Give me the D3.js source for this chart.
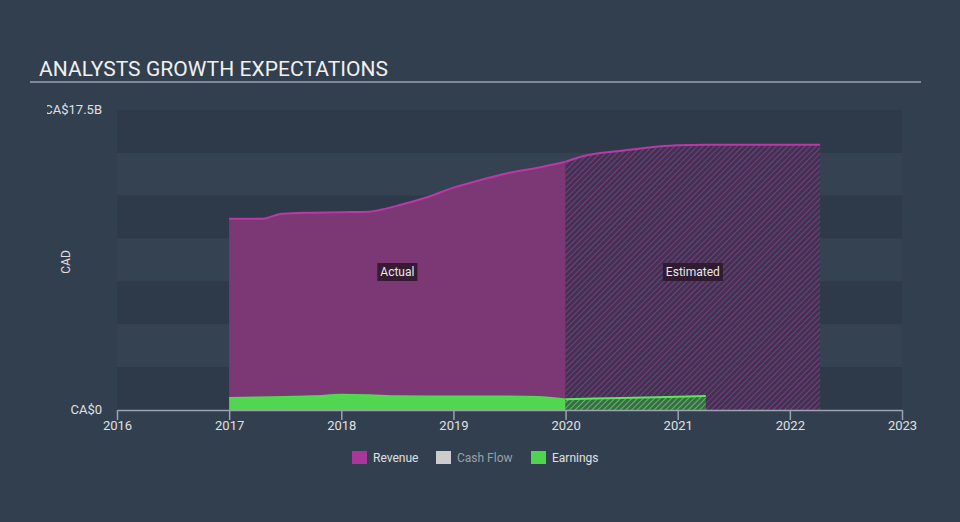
<!DOCTYPE html>
<html>
<head>
<meta charset="utf-8">
<script src="https://cdn.jsdelivr.net/npm/d3@7"></script>
<style>
  body { margin: 0; background: #323f4f; font-family: Roboto, "Open Sans", sans-serif; }
  svg { display: block; }
</style>
</head>
<body>
<div id="chart"></div>
<script>
// Data (CA$ billions)
const revenueActualYears = [2017.0, 2017.3, 2017.47, 2017.75, 2018.0, 2018.25, 2018.36, 2018.5, 2018.75, 2019.0, 2019.25, 2019.5, 2019.75, 2020.0];
const revenueActual = [11.16, 11.16, 11.45, 11.51, 11.54, 11.57, 11.69, 11.92, 12.38, 12.97, 13.43, 13.84, 14.13, 14.48];
const revenueEstYears = [2020.0, 2020.17, 2020.5, 2020.83, 2021.0, 2021.25, 2022.27];
const revenueEst = [14.48, 14.83, 15.12, 15.37, 15.44, 15.47, 15.47];

const earningsActualYears = [2017.0, 2017.5, 2017.75, 2018.0, 2018.25, 2018.5, 2019.0, 2019.5, 2019.75, 2020.0];
const earningsActual = [0.72, 0.78, 0.81, 0.9, 0.87, 0.81, 0.8, 0.8, 0.77, 0.63];
const earningsEstYears = [2020.0, 2020.5, 2021.0, 2021.25];
const earningsEst = [0.63, 0.7, 0.77, 0.81];

const xTicks = [2016, 2017, 2018, 2019, 2020, 2021, 2022, 2023];
const yTickValues = [0, 17.5];
const yTickLabels = ["CA$0", "CA$17.5B"];
const legendItems = ["Revenue", "Cash Flow", "Earnings"];
const legendColors = ["#a9379b", "#cccccc", "#4fd44f"];

const width = 960, height = 522;
const svg = d3.select("#chart").append("svg")
  .attr("width", width).attr("height", height);

const defs = svg.append("defs");
function hatch(id, bg, line) {
  const p = defs.append("pattern")
    .attr("id", id)
    .attr("patternUnits", "userSpaceOnUse")
    .attr("width", 4).attr("height", 4)
    .attr("patternTransform", "rotate(45)");
  p.append("rect").attr("width", 4).attr("height", 4).attr("fill", bg);
  p.append("line").attr("x1", 0).attr("y1", 0).attr("x2", 0).attr("y2", 4)
    .attr("stroke", line).attr("stroke-width", 1.6);
}
hatch("hatchRev", "#3d3550", "#953790");
hatch("hatchEarn", "#3c6a4a", "#5bd65b");

defs.append("clipPath").attr("id", "yclip")
  .append("rect").attr("x", 47).attr("y", 0).attr("width", 100).attr("height", height);

const x = d3.scaleLinear().domain([2016, 2023]).range([117, 902]);
const y = d3.scaleLinear().domain([0, 17.5]).range([410, 110]);

// Title
svg.append("text")
  .attr("x", 39).attr("y", 76)
  .attr("fill", "#f0f0f0")
  .attr("font-size", 21)
  .attr("textLength", 349)
  .text("ANALYSTS GROWTH EXPECTATIONS");
svg.append("line")
  .attr("x1", 30).attr("x2", 921).attr("y1", 82).attr("y2", 82)
  .attr("stroke", "#9aa3ae").attr("stroke-width", 1.5);

// Background bands
const bandStep = 2.5;
const bands = d3.range(0, 7);
svg.append("g").selectAll("rect")
  .data(bands)
  .enter().append("rect")
  .attr("x", x(2016))
  .attr("width", x(2023) - x(2016))
  .attr("y", (d) => y(17.5 - d * bandStep))
  .attr("height", y(0) - y(bandStep))
  .attr("fill", (d) => (d % 2 === 0 ? "#2e3a49" : "#344252"));

const zip = (xs, vs) => xs.map((t, i) => ({ t, v: vs[i] }));
const area = d3.area().x((d) => x(d.t)).y0(y(0)).y1((d) => y(d.v)).curve(d3.curveMonotoneX);
const line = d3.line().x((d) => x(d.t)).y((d) => y(d.v)).curve(d3.curveMonotoneX);

const revA = zip(revenueActualYears, revenueActual);
const revE = zip(revenueEstYears, revenueEst);
const earnA = zip(earningsActualYears, earningsActual);
const earnE = zip(earningsEstYears, earningsEst);

// Revenue
svg.append("path").datum(revA).attr("d", area).attr("fill", "#7b3874");
svg.append("path").datum(revE).attr("d", area).attr("fill", "url(#hatchRev)");
svg.append("path").datum(revA).attr("d", line).attr("fill", "none").attr("stroke", "#b93aa6").attr("stroke-width", 2);
svg.append("path").datum(revE).attr("d", line).attr("fill", "none").attr("stroke", "#b93aa6").attr("stroke-width", 2);

// Earnings
svg.append("path").datum(earnA).attr("d", area).attr("fill", "#52d652");
svg.append("path").datum(earnE).attr("d", area).attr("fill", "url(#hatchEarn)");
svg.append("path").datum(earnA).attr("d", line).attr("fill", "none").attr("stroke", "#4fdc4f").attr("stroke-width", 1.5);
svg.append("path").datum(earnE).attr("d", line).attr("fill", "none").attr("stroke", "#5ae85a").attr("stroke-width", 2);

// Actual / Estimated labels
const tags = [
  { text: "Actual", t: (revenueActualYears[0] + revenueEstYears[0]) / 2 },
  { text: "Estimated", t: (revenueEstYears[0] + revenueEstYears[revenueEstYears.length - 1]) / 2 }
];
tags.forEach((d) => {
  const g = svg.append("g").attr("transform", `translate(${x(d.t)},272)`);
  const txt = g.append("text")
    .attr("text-anchor", "middle").attr("dy", "0.35em")
    .attr("fill", "#e8e8e8").attr("font-size", 12)
    .text(d.text);
  const bb = txt.node().getBBox();
  g.insert("rect", "text")
    .attr("x", bb.x - 3).attr("y", -9)
    .attr("width", bb.width + 6).attr("height", 18)
    .attr("fill", "#2a1628").attr("opacity", 0.85);
});

// X axis
const xAxis = d3.axisBottom(x).tickValues(xTicks).tickFormat(d3.format("d")).tickSize(10).tickSizeOuter(0);
const xg = svg.append("g").attr("transform", `translate(0,${y(0)})`).call(xAxis);
xg.select(".domain").attr("stroke", "#9aa3ae").attr("stroke-width", 1.5);
xg.selectAll(".tick line").attr("stroke", "#9aa3ae").attr("stroke-width", 1.5);
xg.selectAll(".tick text")
  .attr("fill", "#e0e0e0").attr("font-size", 13)
  .attr("font-family", "Roboto, sans-serif").attr("y", 11).attr("dy", "0.71em");

// Y labels
svg.append("g").attr("clip-path", "url(#yclip)")
  .selectAll("text").data(yTickValues).enter().append("text")
  .attr("x", 102).attr("y", (d) => y(d))
  .attr("dy", "0.32em")
  .attr("text-anchor", "end")
  .attr("fill", "#e0e0e0").attr("font-size", 13)
  .text((d, i) => yTickLabels[i]);

svg.append("text")
  .attr("transform", "translate(70,262) rotate(-90)")
  .attr("text-anchor", "middle")
  .attr("fill", "#e0e0e0").attr("font-size", 12)
  .text("CAD");

// Legend
const legendX = [352, 436, 531];
const lg = svg.append("g").selectAll("g").data(legendItems).enter().append("g")
  .attr("transform", (d, i) => `translate(${legendX[i]},451)`);
lg.append("rect").attr("width", 15).attr("height", 13).attr("fill", (d, i) => legendColors[i]);
lg.append("text")
  .attr("x", 21).attr("y", 7).attr("dy", "0.35em")
  .attr("font-size", 12)
  .attr("fill", (d, i) => (i === 1 ? "#9aa0a8" : "#e0e0e0"))
  .text((d) => d);
</script>
</body>
</html>
